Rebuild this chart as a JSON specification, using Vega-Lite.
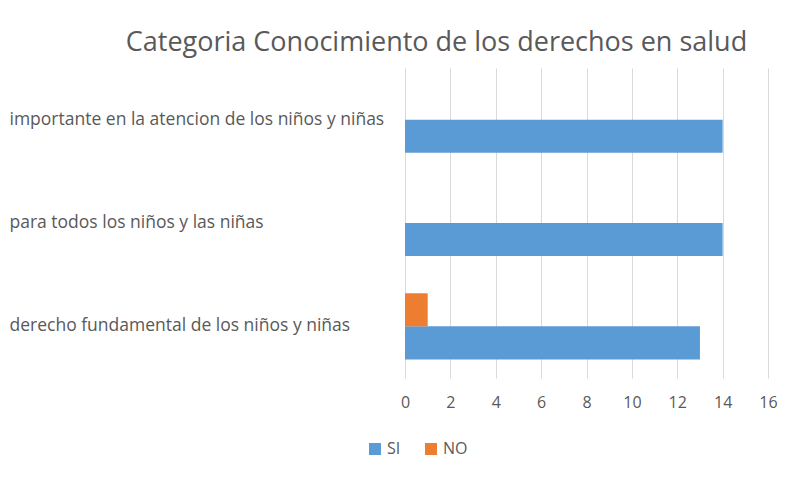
{
  "$schema": "https://vega.github.io/schema/vega-lite/v6.json",
  "width": 363,
  "height": 310,
  "autosize": {"type": "none"},
  "padding": {"left": 405, "top": 68, "right": 21, "bottom": 99},
  "background": "white",
  "config": {
    "font": "Open Sans",
    "view": {"stroke": null}
  },
  "title": {
    "text": "Categoria Conocimiento de los derechos en salud",
    "fontSize": 27,
    "font": "Open Sans",
    "fontWeight": "normal",
    "color": "#595959",
    "anchor": "middle",
    "dx": -150,
    "dy": 24,
    "offset": 14,
    "baseline": "alphabetic"
  },
  "data": {
    "values": [
      {"categoria": "importante en la atencion de los niños y niñas", "respuesta": "SI", "valor": 14},
      {"categoria": "importante en la atencion de los niños y niñas", "respuesta": "NO", "valor": 0},
      {"categoria": "para todos los niños y las niñas", "respuesta": "SI", "valor": 14},
      {"categoria": "para todos los niños y las niñas", "respuesta": "NO", "valor": 0},
      {"categoria": "derecho fundamental de los niños y niñas", "respuesta": "SI", "valor": 13},
      {"categoria": "derecho fundamental de los niños y niñas", "respuesta": "NO", "valor": 1}
    ]
  },
  "mark": {"type": "bar"},
  "encoding": {
    "y": {
      "field": "categoria",
      "type": "nominal",
      "sort": null,
      "scale": {"paddingInner": 0.36, "paddingOuter": 0.18},
      "axis": {
        "title": null,
        "domain": false,
        "ticks": false,
        "grid": false,
        "labelAlign": "left",
        "labelPadding": 396,
        "labelLimit": 0,
        "labelFontSize": 17.5,
        "labelColor": "#595959",
        "labelFont": "Open Sans"
      }
    },
    "yOffset": {
      "field": "respuesta",
      "type": "nominal",
      "sort": ["NO", "SI"]
    },
    "x": {
      "field": "valor",
      "type": "quantitative",
      "scale": {"domain": [0, 16], "nice": false},
      "axis": {
        "title": null,
        "values": [0, 2, 4, 6, 8, 10, 12, 14, 16],
        "domain": false,
        "ticks": false,
        "grid": true,
        "gridColor": "#D9D9D9",
        "gridWidth": 1,
        "labelFlush": false,
        "labelPadding": 16,
        "labelFontSize": 16,
        "labelColor": "#595959",
        "labelFont": "Open Sans"
      }
    },
    "color": {
      "field": "respuesta",
      "type": "nominal",
      "scale": {"domain": ["SI", "NO"], "range": ["#5B9BD5", "#ED7D31"]},
      "legend": {
        "title": null,
        "orient": "none",
        "direction": "horizontal",
        "legendX": -38,
        "legendY": 373,
        "symbolType": "square",
        "symbolSize": 144,
        "symbolStrokeWidth": 0,
        "labelFontSize": 16,
        "labelColor": "#595959",
        "labelFont": "Open Sans",
        "columnPadding": 22
      }
    }
  }
}
